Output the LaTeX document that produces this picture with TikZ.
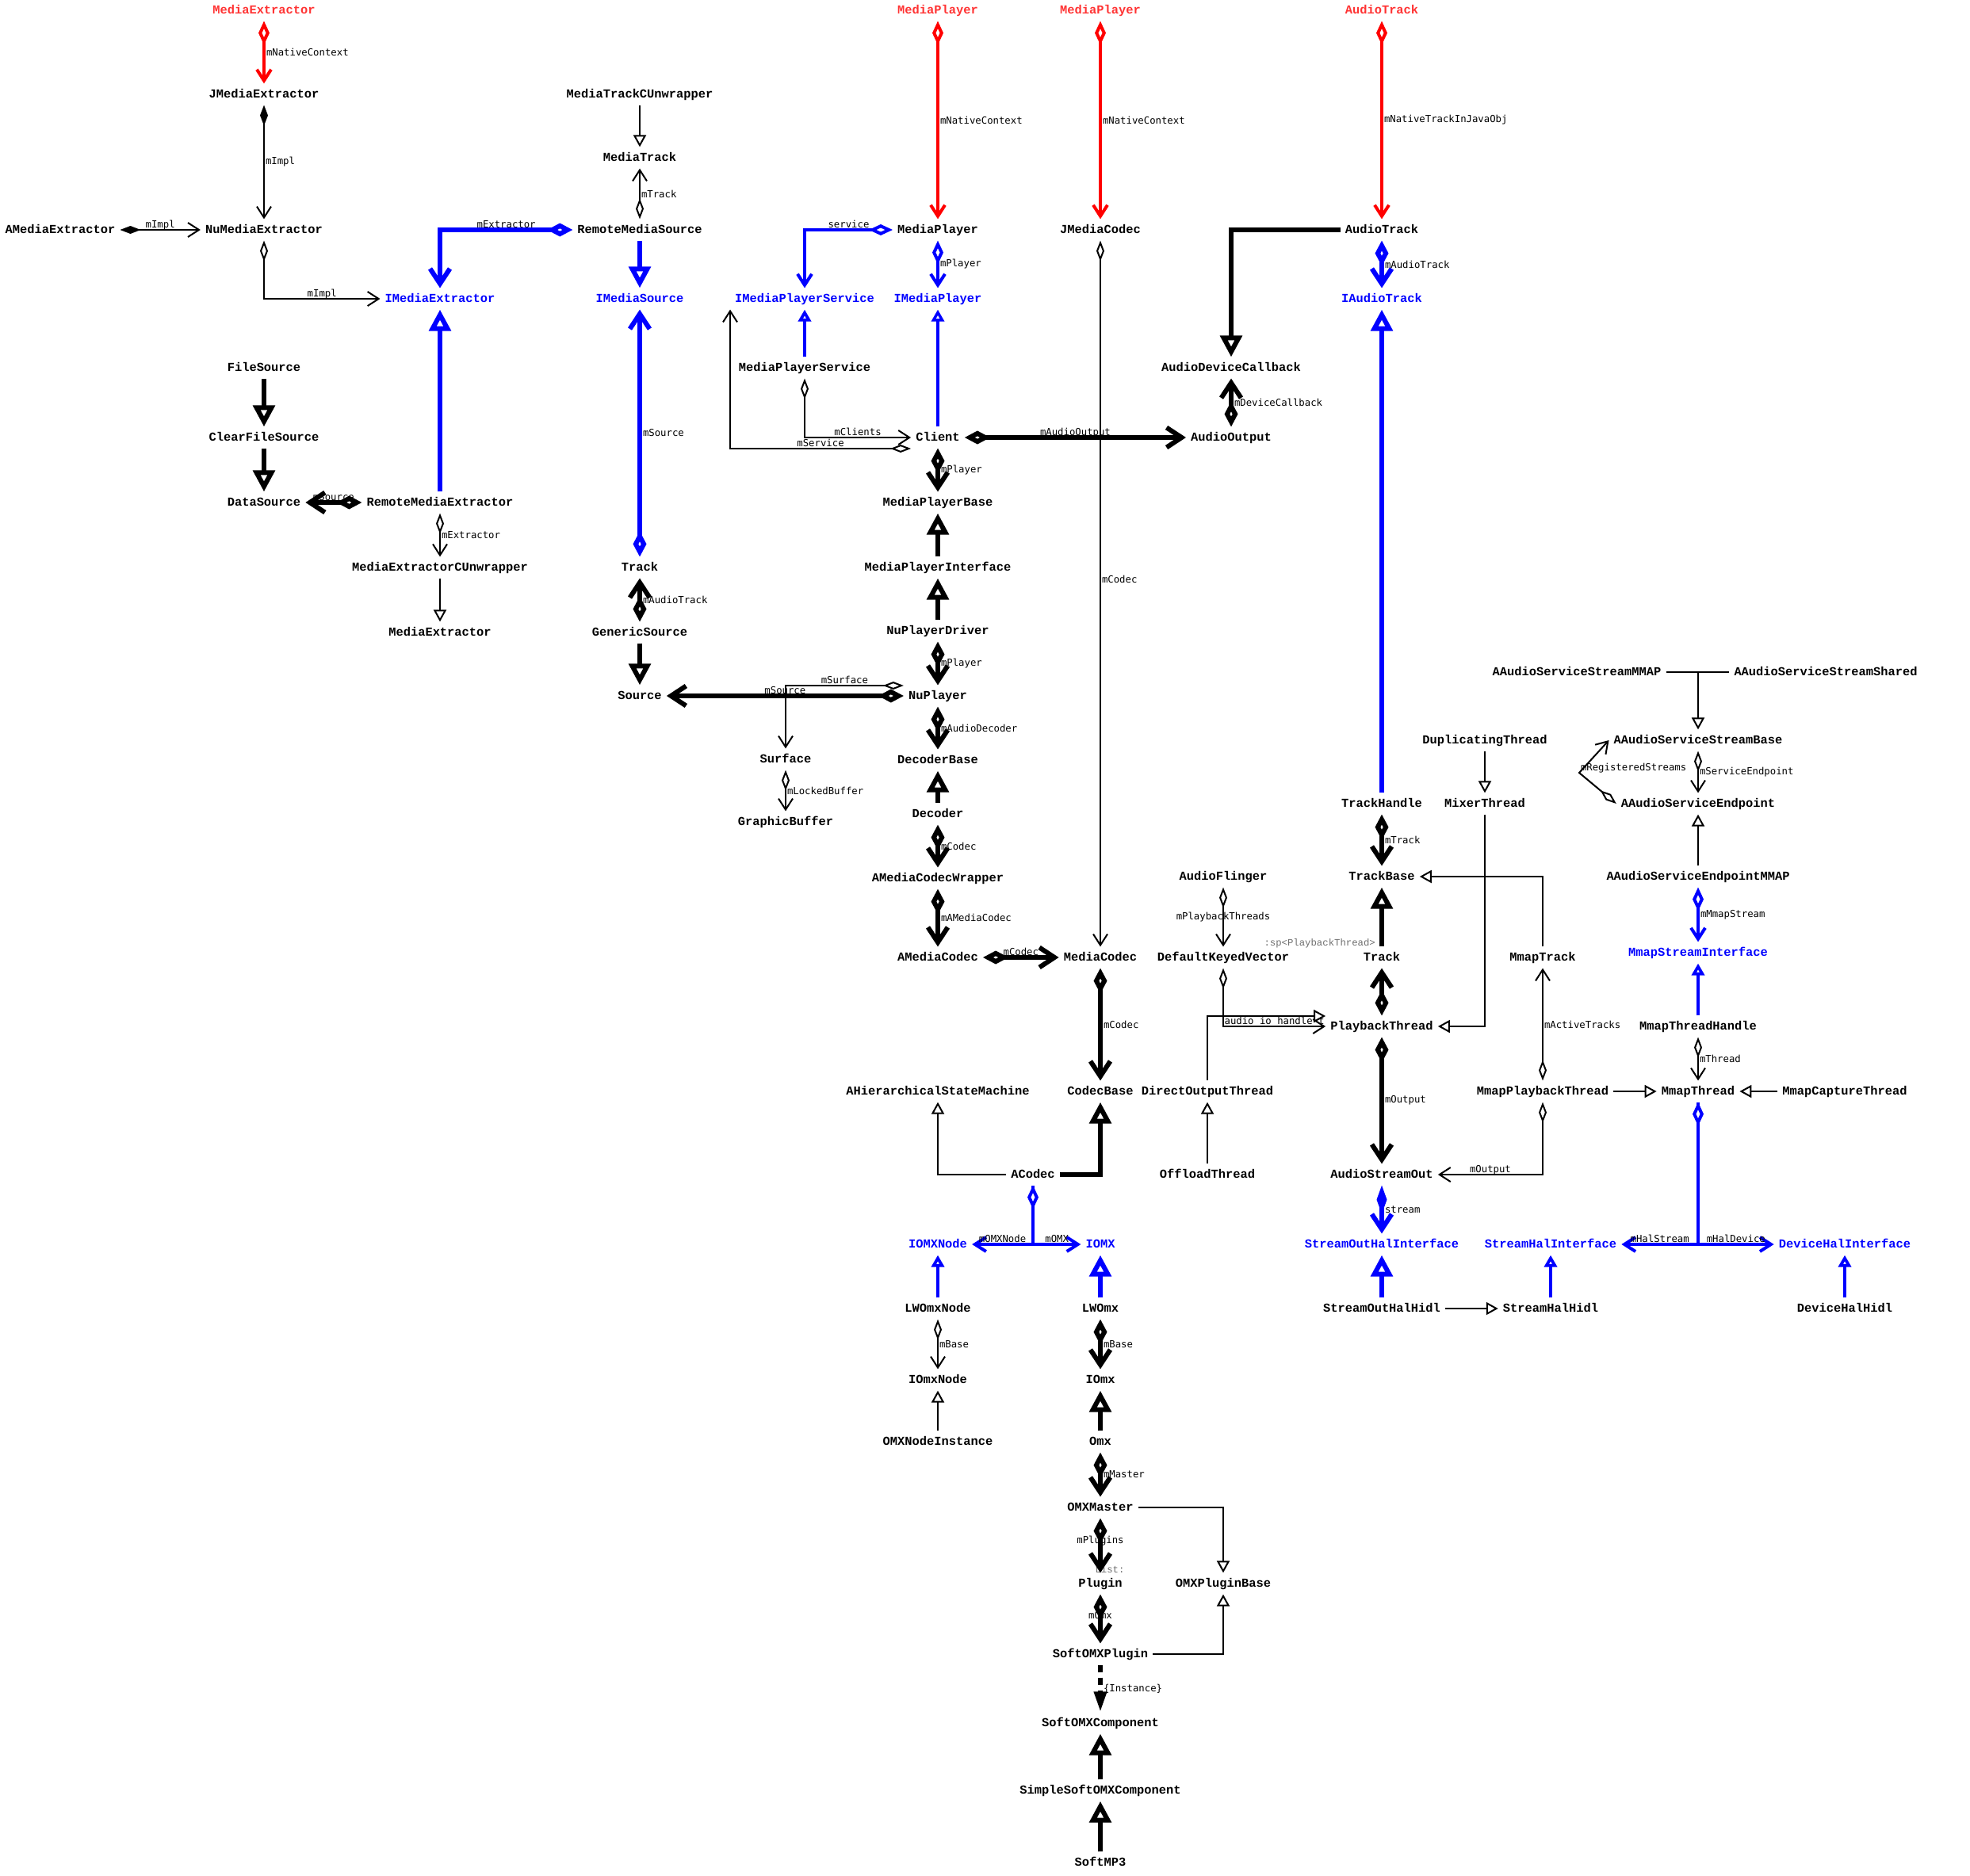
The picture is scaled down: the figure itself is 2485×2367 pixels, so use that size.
\documentclass[tikz,border=0pt]{standalone}
\usepackage{fontspec}
\usetikzlibrary{arrows.meta}
\newfontfamily\clsfont{Liberation Mono}
\newfontfamily\lblfont{DejaVu Sans Mono}
\definecolor{jnitext}{RGB}{255,51,51}
\definecolor{tagtext}{RGB}{110,110,110}
\tikzset{
  agg/.tip={Diamond[fill=white,length=26pt,width=10pt]},
  comp/.tip={Diamond[length=26pt,width=10pt]},
  opn/.tip={Straight Barb[length=14pt,width=18pt]},
  inh/.tip={Triangle[fill=white,length=15pt,width=16pt]},
  aggM/.tip={Diamond[fill=white,length=30pt,width=14pt]},
  aggT/.tip={Diamond[fill=white,length=32pt,width=17pt]},
  compT/.tip={Diamond[length=36pt,width=13pt]},
  opnT/.tip={Straight Barb[length=19pt,width=25pt]},
  inhT/.tip={Triangle[fill=white,length=27pt,width=27pt]},
  inst/.tip={Triangle[length=26pt,width=15pt]},
  cls/.style={font=\clsfont\bfseries\fontsize{15.4pt}{18pt}\selectfont,
    text height=8.8pt, text depth=0pt, inner xsep=6pt, inner ysep=9pt},
  jni/.style={cls, text=jnitext},
  ifc/.style={cls, text=blue},
  vl/.style={font=\lblfont\fontsize{12.3pt}{14pt}\selectfont, inner sep=1pt, anchor=west},
  hl/.style={font=\lblfont\fontsize{12.3pt}{14pt}\selectfont, inner sep=0pt, anchor=base, yshift=2.5pt},
  cl/.style={font=\lblfont\fontsize{12.3pt}{14pt}\selectfont, inner sep=1pt},
  tag/.style={font=\clsfont\fontsize{12.3pt}{14pt}\selectfont, text=tagtext, inner sep=0pt},
  wThin/.style={line width=2pt},
  wThick/.style={line width=6pt},
  jniln/.style={draw=red, line width=4pt},
  bMid/.style={draw=blue, line width=4pt},
  bThick/.style={draw=blue, line width=6pt}
}

\begin{document}
\begin{tikzpicture}[x=1pt, y=-1pt]
  \useasboundingbox (0,0) rectangle (2485,2367);
  % extractor column
  \node[jni] (jExtr) at (333,13) {MediaExtractor};
  \node[cls] (jme) at (333,119) {JMediaExtractor};
  \node[cls] (ame) at (76,290) {AMediaExtractor};
  \node[cls] (nme) at (333,290) {NuMediaExtractor};
  \node[ifc] (ime) at (555,377) {IMediaExtractor};
  \node[cls] (fs) at (333,464) {FileSource};
  \node[cls] (cfs) at (333,552) {ClearFileSource};
  \node[cls] (ds) at (333,634) {DataSource};
  \node[cls] (rme) at (555,634) {RemoteMediaExtractor};
  \node[cls] (mecu) at (555,716) {MediaExtractorCUnwrapper};
  \node[cls] (mex) at (555,798) {MediaExtractor};
  \node[cls] (mtcu) at (807,119) {MediaTrackCUnwrapper};
  \node[cls] (mtr) at (807,199) {MediaTrack};
  \node[cls] (rms) at (807,290) {RemoteMediaSource};
  \node[ifc] (ims) at (807,377) {IMediaSource};
  \node[cls] (trk) at (807,716) {Track};
  \node[cls] (gs) at (807,798) {GenericSource};
  \node[cls] (src) at (807,878) {Source};
  % player column
  \node[jni] (jMP1) at (1183,13) {MediaPlayer};
  \node[jni] (jMP2) at (1388,13) {MediaPlayer};
  \node[cls] (mp) at (1183,290) {MediaPlayer};
  \node[cls] (jmc) at (1388,290) {JMediaCodec};
  \node[ifc] (imps) at (1015,377) {IMediaPlayerService};
  \node[ifc] (imp) at (1183,377) {IMediaPlayer};
  \node[cls] (mps) at (1015,464) {MediaPlayerService};
  \node[cls] (cli) at (1183,552) {Client};
  \node[cls] (mpb) at (1183,634) {MediaPlayerBase};
  \node[cls] (mpi) at (1183,716) {MediaPlayerInterface};
  \node[cls] (npd) at (1183,796) {NuPlayerDriver};
  \node[cls] (np) at (1183,878) {NuPlayer};
  \node[cls] (surf) at (991,958) {Surface};
  \node[cls] (gb) at (991,1037) {GraphicBuffer};
  \node[cls] (decb) at (1183,959) {DecoderBase};
  \node[cls] (dec) at (1183,1027) {Decoder};
  \node[cls] (amcw) at (1183,1108) {AMediaCodecWrapper};
  \node[cls] (amc) at (1183,1208) {AMediaCodec};
  \node[cls] (mc) at (1388,1208) {MediaCodec};
  \node[cls] (ahsm) at (1183,1377) {AHierarchicalStateMachine};
  \node[cls] (cb) at (1388,1377) {CodecBase};
  \node[cls] (acodec) at (1303,1482) {ACodec};
  \node[ifc] (iomxn) at (1183,1570) {IOMXNode};
  \node[ifc] (iomx) at (1388,1570) {IOMX};
  \node[cls] (lwn) at (1183,1651) {LWOmxNode};
  \node[cls] (lw) at (1388,1651) {LWOmx};
  \node[cls] (ionode) at (1183,1741) {IOmxNode};
  \node[cls] (iomxb) at (1388,1741) {IOmx};
  \node[cls] (omxni) at (1183,1819) {OMXNodeInstance};
  \node[cls] (omx) at (1388,1819) {Omx};
  \node[cls] (omxm) at (1388,1902) {OMXMaster};
  \node[cls] (plug) at (1388,1998) {Plugin};
  \node[cls] (opb) at (1543,1998) {OMXPluginBase};
  \node[cls] (sop) at (1388,2087) {SoftOMXPlugin};
  \node[cls] (soc) at (1388,2174) {SoftOMXComponent};
  \node[cls] (ssoc) at (1388,2259) {SimpleSoftOMXComponent};
  \node[cls] (mp3) at (1388,2350) {SoftMP3};
  % audio column
  \node[jni] (jAT) at (1743,13) {AudioTrack};
  \node[cls] (aTrk) at (1743,290) {AudioTrack};
  \node[ifc] (iat) at (1743,377) {IAudioTrack};
  \node[cls] (adc) at (1553,464) {AudioDeviceCallback};
  \node[cls] (aout) at (1553,552) {AudioOutput};
  \node[cls] (af) at (1543,1106) {AudioFlinger};
  \node[cls] (dkv) at (1543,1208) {DefaultKeyedVector};
  \node[cls] (dot) at (1523,1377) {DirectOutputThread};
  \node[cls] (offl) at (1523,1482) {OffloadThread};
  \node[cls] (th) at (1743,1014) {TrackHandle};
  \node[cls] (tbase) at (1743,1106) {TrackBase};
  \node[cls] (ptrk) at (1743,1208) {Track};
  \node[cls] (pt) at (1743,1295) {PlaybackThread};
  \node[cls] (aso) at (1743,1482) {AudioStreamOut};
  \node[ifc] (sohi) at (1743,1570) {StreamOutHalInterface};
  \node[cls] (soh) at (1743,1651) {StreamOutHalHidl};
  \node[cls] (dup) at (1873,934) {DuplicatingThread};
  \node[cls] (mix) at (1873,1014) {MixerThread};
  \node[cls] (mmt) at (1946,1208) {MmapTrack};
  \node[cls] (mmpt) at (1946,1377) {MmapPlaybackThread};
  \node[ifc] (shi) at (1956,1570) {StreamHalInterface};
  \node[cls] (shh) at (1956,1651) {StreamHalHidl};
  \node[cls] (assm) at (1989,848) {AAudioServiceStreamMMAP};
  \node[cls] (asss) at (2303,848) {AAudioServiceStreamShared};
  \node[cls] (assb) at (2142,934) {AAudioServiceStreamBase};
  \node[cls] (ase) at (2142,1014) {AAudioServiceEndpoint};
  \node[cls] (asem) at (2142,1106) {AAudioServiceEndpointMMAP};
  \node[ifc] (msi) at (2142,1202) {MmapStreamInterface};
  \node[cls] (mth) at (2142,1295) {MmapThreadHandle};
  \node[cls] (mmth) at (2142,1377) {MmapThread};
  \node[cls] (mct) at (2327,1377) {MmapCaptureThread};
  \node[ifc] (dhi) at (2327,1570) {DeviceHalInterface};
  \node[cls] (dhh) at (2327,1651) {DeviceHalHidl};
  \node[tag, anchor=east] (spTag) at (1735,1190) {:sp<PlaybackThread>};
  \node[tag] (listTag) at (1400,1980) {List:};
  \coordinate (ssJoin) at (2142,849);
  \coordinate (rsBend) at (1992,975);

  % extractor edges
  \draw[jniln, aggM-opn] (jExtr) -- node[vl]{mNativeContext} (jme);
  \draw[wThin, comp-opn] (jme) -- node[vl]{mImpl} (nme);
  \draw[wThin, comp-opn] (ame) -- node[hl]{mImpl} (nme);
  \draw[wThin, agg-opn] (nme) |- node[hl, pos=.75]{mImpl} (ime);
  \draw[bThick, aggT-opnT] (rms) -| node[hl, pos=.25]{mExtractor} (ime);
  \draw[wThin, -inh] (mtcu) -- (mtr);
  \draw[wThin, agg-opn] (rms) -- node[vl]{mTrack} (mtr);
  \draw[bThick, -inhT] (rms) -- (ims);
  \draw[wThick, -inhT] (fs) -- (cfs);
  \draw[wThick, -inhT] (cfs) -- (ds);
  \draw[wThick, aggT-opnT] (rme) -- node[hl]{mSource} (ds);
  \draw[bThick, -inhT] (rme) -- (ime);
  \draw[wThin, agg-opn] (rme) -- node[vl]{mExtractor} (mecu);
  \draw[wThin, -inh] (mecu) -- (mex);
  \draw[bThick, aggT-opnT] (trk) -- node[vl]{mSource} (ims);
  \draw[wThick, aggT-opnT] (gs) -- node[vl]{mAudioTrack} (trk);
  \draw[wThick, -inhT] (gs) -- (src);

  % player edges
  \draw[jniln, aggM-opn] (jMP1) -- node[vl]{mNativeContext} (mp);
  \draw[jniln, aggM-opn] (jMP2) -- node[vl]{mNativeContext} (jmc);
  \draw[bMid, aggM-opn] (mp) -| node[hl, pos=.25]{service} (imps);
  \draw[bMid, aggM-opn] (mp) -- node[vl]{mPlayer} (imp);
  \draw[bMid, -inh] (mps) -- (imps);
  \draw[blue, line width=3.5pt, -inh] (cli) -- (imp);
  \draw[wThin, agg-opn] (mps) |- node[hl, pos=.75]{mClients} (cli);
  \draw[wThin, agg-opn] ([yshift=-14pt]cli.west) -| node[hl, pos=.25]{mService} (imps.south west);
  \draw[wThick, aggT-opnT] (cli) -- node[hl]{mAudioOutput} (aout);
  \draw[wThick, -inhT] (aTrk) -| (adc);
  \draw[wThick, aggT-opnT] (aout) -- node[vl]{mDeviceCallback} (adc);
  \draw[wThin, agg-opn] (jmc) -- node[vl, pos=.48]{mCodec} (mc);
  \draw[wThick, aggT-opnT] (cli) -- node[vl]{mPlayer} (mpb);
  \draw[wThick, -inhT] (mpi) -- (mpb);
  \draw[wThick, -inhT] (npd) -- (mpi);
  \draw[wThick, aggT-opnT] (npd) -- node[vl]{mPlayer} (np);
  \draw[wThin, agg-opn] ([yshift=13pt]np.west) -| node[hl, pos=.25]{mSurface} (surf);
  \draw[wThick, aggT-opnT] (np) -- node[hl]{mSource} (src);
  \draw[wThin, agg-opn] (surf) -- node[vl]{mLockedBuffer} (gb);
  \draw[wThick, aggT-opnT] (np) -- node[vl]{mAudioDecoder} (decb);
  \draw[wThick, -inhT] (dec) -- (decb);
  \draw[wThick, aggT-opnT] (dec) -- node[vl]{mCodec} (amcw);
  \draw[wThick, aggT-opnT] (amcw) -- node[vl]{mAMediaCodec} (amc);
  \draw[wThick, aggT-opnT] (amc) -- node[hl]{mCodec} (mc);
  \draw[wThick, aggT-opnT] (mc) -- node[vl]{mCodec} (cb);
  \draw[wThin, -inh] (acodec) -| (ahsm);
  \draw[wThick, -inhT] (acodec) -| (cb);

  % omx edges
  \draw[bMid, -opn] (acodec) |- node[hl, pos=.75]{mOMX} (iomx);
  \draw[bMid, aggM-opn] (acodec) |- node[hl, pos=.75]{mOMXNode} (iomxn);
  \draw[bMid, -inh] (lwn) -- (iomxn);
  \draw[bThick, -inhT] (lw) -- (iomx);
  \draw[wThin, agg-opn] (lwn) -- node[vl]{mBase} (ionode);
  \draw[wThick, aggT-opnT] (lw) -- node[vl]{mBase} (iomxb);
  \draw[wThin, -inh] (omxni) -- (ionode);
  \draw[wThick, -inhT] (omx) -- (iomxb);
  \draw[wThick, aggT-opnT] (omx) -- node[vl]{mMaster} (omxm);
  \draw[wThin, -inh] (omxm) -| (opb);
  \draw[wThick, aggT-opnT] (omxm) -- node[cl, pos=.42]{mPlugins} (plug);
  \draw[wThick, aggT-opnT] (plug) -- node[cl, pos=.42]{mOmx} (sop);
  \draw[wThin, -inh] (sop) -| (opb);
  \draw[wThick, dash pattern=on 9pt off 7pt, -inst] (sop) -- node[vl]{\{Instance\}} (soc);
  \draw[wThick, -inhT] (ssoc) -- (soc);
  \draw[wThick, -inhT] (mp3) -- (ssoc);

  % audio edges
  \draw[jniln, aggM-opn] (jAT) -- node[vl]{mNativeTrackInJavaObj} (aTrk);
  \draw[bThick, aggT-opnT] (aTrk) -- node[vl]{mAudioTrack} (iat);
  \draw[bThick, -inhT] (th) -- (iat);
  \draw[wThick, aggT-opnT] (th) -- node[vl]{mTrack} (tbase);
  \draw[wThick, -inhT] (ptrk) -- (tbase);
  \draw[wThick, aggT-opnT] (pt) -- (ptrk);
  \draw[wThin, agg-opn] (af) -- node[cl]{mPlaybackThreads} (dkv);
  \draw[wThin, -inh] (dot) |- ([yshift=13pt]pt.west);
  \draw[wThin, agg-opn] (dkv) |- node[hl, pos=.75]{audio\_io\_handle\_t} (pt);
  \draw[wThin, -inh] (offl) -- (dot);
  \draw[wThin, -inh] (dup) -- (mix);
  \draw[wThin, -inh] (mix) |- (pt);
  \draw[wThin, -inh] (mmt) |- (tbase);
  \draw[wThick, aggT-opnT] (pt) -- node[vl]{mOutput} (aso);
  \draw[wThin, agg-opn] (mmpt) -- node[vl]{mActiveTracks} (mmt);
  \draw[wThin, agg-opn] (mmpt) |- node[hl, pos=.75]{mOutput} (aso);
  \draw[bThick, compT-opnT] (aso) -- node[vl]{stream} (sohi);
  \draw[bThick, -inhT] (soh) -- (sohi);
  \draw[wThin, -inh] (soh) -- (shh);
  \draw[bMid, -inh] (shh) -- (shi);
  \draw[bMid, -inh] (dhh) -- (dhi);

  % aaudio / mmap edges
  \draw[wThin] (assm) -- (asss);
  \draw[wThin, -inh] (ssJoin) -- (assb);
  \draw[wThin, agg-opn] (assb) -- node[vl]{mServiceEndpoint} (ase);
  \draw[wThin, agg-opn] (ase.west) -- (rsBend) node[vl, yshift=6pt]{mRegisteredStreams} -- (assb.west);
  \draw[wThin, -inh] (asem) -- (ase);
  \draw[bMid, aggM-opn] (asem) -- node[vl]{mMmapStream} (msi);
  \draw[bMid, -inh] (mth) -- (msi);
  \draw[wThin, agg-opn] (mth) -- node[vl]{mThread} (mmth);
  \draw[wThin, -inh] (mmpt) -- (mmth);
  \draw[wThin, -inh] (mct) -- (mmth);
  \draw[bMid, -opn] (mmth) |- node[hl, pos=.75]{mHalDevice} (dhi);
  \draw[bMid, aggM-opn] (mmth) |- node[hl, pos=.75]{mHalStream} (shi);
\end{tikzpicture}
\end{document}
